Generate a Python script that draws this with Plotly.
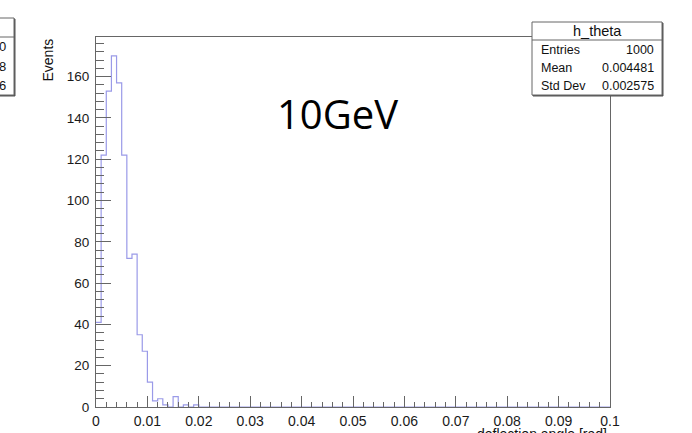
import numpy as np
import plotly.graph_objects as go

# ---- data ----
x_min, x_max, n_bins = 0.0, 0.1, 100
counts_nonzero = [41, 122, 153, 170, 157, 122, 72, 74, 35, 27, 12, 3, 4, 1, 0, 5, 0, 1, 0, 1]
counts = counts_nonzero + [0] * (n_bins - len(counts_nonzero))
x_ticks = [0, 0.01, 0.02, 0.03, 0.04, 0.05, 0.06, 0.07, 0.08, 0.09, 0.1]
x_tick_text = ["0", "0.01", "0.02", "0.03", "0.04", "0.05", "0.06", "0.07", "0.08", "0.09", "0.1"]
y_ticks = [0, 20, 40, 60, 80, 100, 120, 140, 160]
stats_title = "h_theta"
stats_rows = [("Entries", "1000"), ("Mean", "0.004481"), ("Std Dev", "0.002575")]
left_box_digits = ["0", "8", "6"]
label_text = "10GeV"

edges = np.linspace(x_min, x_max, n_bins + 1)
step_x = list(edges)
step_y = counts + [counts[-1]]

# ---- layout geometry (pixels) ----
FW, FH = 692, 433
L, R, T, B = 96, 610, 37, 407
W, H = R - L, B - T


def px(x):
    return (x - L) / W


def py(y):
    return (B - y) / H


FRAME = "#666666"
HIST = "#9a9ae8"
FONT = "Liberation Sans, Arial, Helvetica, sans-serif"

fig = go.Figure()
fig.add_trace(go.Scatter(x=step_x, y=step_y, mode="lines", line=dict(shape="hv", color=HIST, width=1.2),
                         hoverinfo="skip", showlegend=False))

fig.update_layout(
    width=FW, height=FH, autosize=False,
    margin=dict(l=L, r=FW - R, t=T, b=FH - B, pad=0, autoexpand=False),
    paper_bgcolor="white", plot_bgcolor="white",
    font=dict(family=FONT, color="#222222"),
    showlegend=False,
)
fig.update_xaxes(
    range=[x_min, x_max], showgrid=False, zeroline=False, automargin=False,
    showline=True, linecolor=FRAME, linewidth=1, mirror=True,
    ticks="inside", ticklen=11, tickcolor=FRAME, tickwidth=1,
    tickvals=x_ticks, ticktext=x_tick_text, tickfont=dict(size=14, color="#1a1a1a"),
    ticklabelstandoff=1,
    minor=dict(ticks="inside", ticklen=5.5, dtick=0.002, tickcolor=FRAME, tickwidth=1, showgrid=False),
)
fig.update_yaxes(
    range=[0, H / 2.065], showgrid=False, zeroline=False, automargin=False,
    showline=True, linecolor=FRAME, linewidth=1, mirror=True,
    ticks="inside", ticklen=15, tickcolor=FRAME, tickwidth=1,
    tickvals=y_ticks, tickfont=dict(size=13.5, color="#1a1a1a"),
    ticklabelstandoff=3,
    minor=dict(ticks="inside", ticklen=7.5, dtick=4, tickcolor=FRAME, tickwidth=1, showgrid=False),
)

shapes = []
annotations = []

# stats box (right)
bx0, bx1, by0, by1, bdiv = 532, 662, 22, 95, 40
shapes.append(dict(type="rect", xref="paper", yref="paper", x0=px(bx0 + 1), x1=px(bx1 + 1), y0=py(by0 + 1), y1=py(by1 + 1),
                   line=dict(color="#555", width=1), fillcolor="#555", layer="above"))
shapes.append(dict(type="rect", xref="paper", yref="paper", x0=px(bx0), x1=px(bx1), y0=py(by0), y1=py(by1),
                   line=dict(color=FRAME, width=1), fillcolor="white", layer="above"))
shapes.append(dict(type="line", xref="paper", yref="paper", x0=px(bx0), x1=px(bx1), y0=py(bdiv), y1=py(bdiv),
                   line=dict(color=FRAME, width=1), layer="above"))
annotations.append(dict(xref="paper", yref="paper", x=px((bx0 + bx1) / 2), y=py(31), text=stats_title,
                        showarrow=False, xanchor="center", yanchor="middle", font=dict(size=14.5, color="#111")))
for i, (k, v) in enumerate(stats_rows):
    yy = 50 + 18 * i
    annotations.append(dict(xref="paper", yref="paper", x=px(539), y=py(yy), text=k, showarrow=False,
                            xanchor="left", yanchor="middle", font=dict(size=12.5, color="#111")))
    annotations.append(dict(xref="paper", yref="paper", x=px(656), y=py(yy), text=v, showarrow=False,
                            xanchor="right", yanchor="middle", font=dict(size=12.5, color="#111")))

# cropped stats box (left edge)
lx0, lx1, ly0, ly1, ldiv = -20, 14, 18, 95, 37
shapes.append(dict(type="rect", xref="paper", yref="paper", x0=px(lx0), x1=px(lx1 + 1), y0=py(ly0 + 1), y1=py(ly1 + 1),
                   line=dict(color="#555", width=1), fillcolor="#555", layer="above"))
shapes.append(dict(type="rect", xref="paper", yref="paper", x0=px(lx0), x1=px(lx1), y0=py(ly0), y1=py(ly1),
                   line=dict(color=FRAME, width=1), fillcolor="white", layer="above"))
shapes.append(dict(type="line", xref="paper", yref="paper", x0=px(lx0), x1=px(lx1), y0=py(ldiv), y1=py(ldiv),
                   line=dict(color=FRAME, width=1), layer="above"))
for i, d in enumerate(left_box_digits):
    annotations.append(dict(xref="paper", yref="paper", x=px(8), y=py(47 + 19 * i), text=d, showarrow=False,
                            xanchor="right", yanchor="middle", font=dict(size=13, color="#111")))

# axis titles
annotations.append(dict(xref="paper", yref="paper", x=px(47), y=py(37), text="Events", textangle=-90,
                        showarrow=False, xanchor="center", yanchor="top", font=dict(size=14, color="#111")))
annotations.append(dict(xref="paper", yref="paper", x=px(609), y=py(424), text="deflection angle [rad]",
                        showarrow=False, xanchor="right", yanchor="top", font=dict(size=14, color="#111")))

# big label
annotations.append(dict(xref="paper", yref="paper", x=px(337), y=py(113), text=label_text, showarrow=False,
                        xanchor="center", yanchor="middle",
                        font=dict(size=40, color="#000", family="Open Sans, Noto Sans, sans-serif")))

fig.update_layout(shapes=shapes, annotations=annotations)
fig.write_html("out.html")
